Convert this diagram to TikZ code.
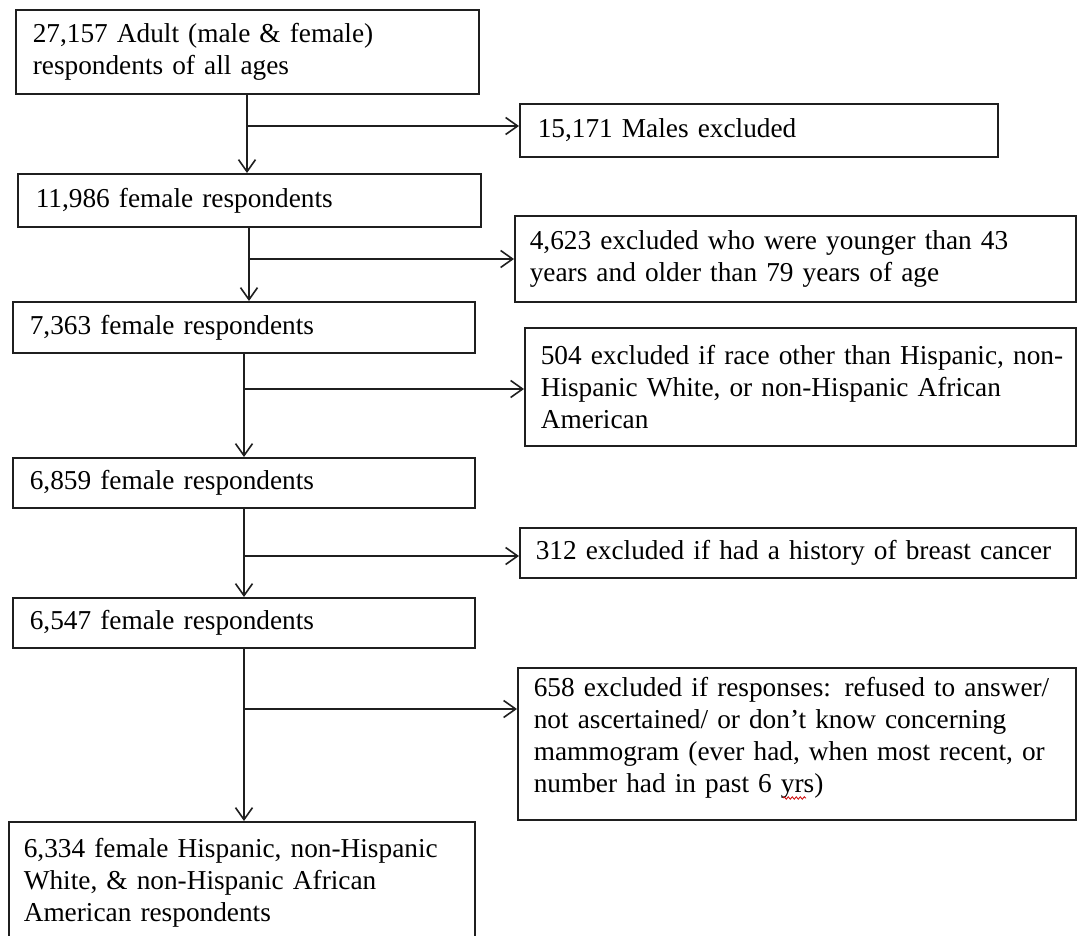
\documentclass[tikz,border=0pt]{standalone}
\usepackage{fontspec}
\setmainfont{Liberation Serif}
\usetikzlibrary{arrows.meta,decorations.pathmorphing}
\newcommand\boxfont{\fontsize{27.3}{32.2}\selectfont}
\tikzset{
  conn/.style={draw=black!88, line width=1.6pt},
  arr/.style={conn, -{Straight Barb[length=12pt,width=17pt]}},
  box/.style={draw=black!88, line width=1.6pt, fill=white, anchor=north west,
    align=left, font=\boxfont, text=black, inner ysep=0pt},
}
\begin{document}
\begin{tikzpicture}[x=1pt,y=-1pt]
\fill[white] (0,0) rectangle (1077,936);
\useasboundingbox (0,0) rectangle (1077,936);

% left column
\node[box, inner xsep=17pt, text width=429pt, minimum height=84pt] (b1) at (15,9)
  {\mbox{27,157 Adult (male \& female)}\\\mbox{respondents of all ages}};
\node[box, inner xsep=18pt, text width=427pt, minimum height=53pt] (b2) at (17,173)
  {\mbox{11,986 female respondents}};
\node[box, inner xsep=17pt, text width=428pt, minimum height=51pt] (b3) at (12,301)
  {\mbox{7,363 female respondents}};
\node[box, inner xsep=17pt, text width=428pt, minimum height=50pt] (b4) at (12,457)
  {\mbox{6,859 female respondents}};
\node[box, inner xsep=17pt, text width=428pt, minimum height=50pt] (b5) at (12,597)
  {\mbox{6,547 female respondents}};
\node[box, inner xsep=15pt, text width=436pt, inner ysep=16pt] (b6) at (8,821)
  {\mbox{6,334 female Hispanic, non-Hispanic}\\\mbox{White, \& non-Hispanic African}\\\mbox{American respondents}};

% right column
\node[box, inner xsep=18pt, text width=442pt, minimum height=53pt] (r1) at (519,103)
  {\mbox{15,171 Males excluded}};
\node[box, inner xsep=15pt, text width=531pt, minimum height=86pt] (r2) at (514,215)
  {\mbox{4,623 excluded who were younger than 43}\\\mbox{years and older than 79 years of age}};
\node[box, inner xsep=16pt, text width=519pt, minimum height=118pt] (r3) at (524,327)
  {\mbox{504 excluded if race other than Hispanic, non-}\\\mbox{Hispanic White, or non-Hispanic African}\\\mbox{American}};
\node[box, inner xsep=16pt, text width=524pt, minimum height=50pt] (r4) at (519,527)
  {\mbox{312 excluded if had a history of breast cancer}};
\node[box, inner xsep=16pt, text width=526pt, minimum height=152pt] (r5) at (517,667)
  {\mbox{658 excluded if responses: refused to answer/}\\\mbox{not ascertained/ or don’t know concerning}\\\mbox{mammogram (ever had, when most recent, or}\\\mbox{number had in past 6 yrs)\rule[-18pt]{0pt}{0pt}}};

% junctions
\coordinate (j1) at (247,126);
\coordinate (j2) at (249,259);
\coordinate (j3) at (244,389);
\coordinate (j4) at (244,556);
\coordinate (j5) at (244,709);

\draw[arr] (b1.south -| j1) -- (b2.north -| j1);
\draw[arr] (j1) -- (r1.west |- j1);
\draw[arr] (b2.south -| j2) -- (b3.north -| j2);
\draw[arr] (j2) -- (r2.west |- j2);
\draw[arr] (b3.south -| j3) -- (b4.north -| j3);
\draw[arr] (j3) -- (r3.west |- j3);
\draw[arr] (b4.south -| j4) -- (b5.north -| j4);
\draw[arr] (j4) -- (r4.west |- j4);
\draw[arr] (b5.south -| j5) -- (b6.north -| j5);
\draw[arr] (j5) -- (r5.west |- j5);

% spell-check squiggle under "yrs"
\draw[red!80!black, line width=0.8pt, decorate,
  decoration={snake, amplitude=1.2pt, segment length=4pt}] (783,798) -- (806,798);
\end{tikzpicture}
\end{document}
